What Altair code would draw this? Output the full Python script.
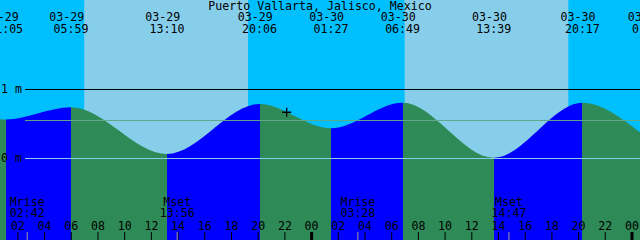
import altair as alt
import pandas as pd

# ---------------- data ----------------
title_text = "Puerto Vallarta, Jalisco, Mexico"

# visible window, hours after 03-29 00:00
window_start = 0.66
window_end = 48.60

# tide extremes
tide_dates = ["03-29", "03-29", "03-29", "03-29", "03-30", "03-30", "03-30", "03-30"]
tide_times = ["01:05", "05:59", "13:10", "20:06", "01:27", "06:49", "13:39", "20:17"]
tide_kinds = ["L", "H", "L", "H", "L", "H", "L", "H"]
tide_heights = [0.565, 0.742, 0.065, 0.790, 0.438, 0.809, 0.012, 0.809]
edge_heights = [0.568, 0.380]  # water level at the left / right edge

# next extreme, only partly visible at the right edge
extra_dates = ["03-31"]
extra_times = ["01:19"]

# sunrise / sunset
sun_dates = ["03-29", "03-29", "03-30", "03-30"]
sun_times = ["06:58", "19:15", "06:58", "19:15"]

# moon events
moon_names = ["Mrise", "Mset", "Mrise", "Mset"]
moon_dates = ["03-29", "03-29", "03-30", "03-30"]
moon_times = ["02:42", "13:56", "03:28", "14:47"]

# hour ticks (hours after 03-29 00:00)
hour_ticks = list(range(2, 49, 2))

# level lines
level_heights = [1.0, 0.551, 0.0]
level_names = ["one", "msl", "zero"]
level_labels = ["1 m", "", "0 m"]

# "now" marker
now_date = "03-29"
now_time = "22:08"
now_height = 0.67

# vertical extent of the picture, metres
y_min, y_max = -1.1812, 2.2971

# ---------------- styles ----------------
DAY = "#87CEEB"
NIGHT = "#00BFFF"
RISE = "#0000FF"
FALL = "#2E8B57"
FONT = "DejaVu Sans Mono"
FS = 11.6
W, H = 640, 240


def hrs(d, t):
    day = {"03-29": 0, "03-30": 1, "03-31": 2}[d]
    hh, mm = t.split(":")
    return day * 24 + int(hh) + int(mm) / 60.0


x_scale = alt.Scale(domain=[window_start, window_end], nice=False, zero=False)
y_scale = alt.Scale(domain=[y_min, y_max], nice=False, zero=False)


def X(f):
    return alt.X(f, type="quantitative", scale=x_scale, axis=None)


def Y(f):
    return alt.Y(f, type="quantitative", scale=y_scale, axis=None)


ext_t = [hrs(d, t) for d, t in zip(tide_dates, tide_times)]

# curve
curve = pd.DataFrame({
    "t": [window_start] + ext_t + [window_end],
    "h": [edge_heights[0]] + tide_heights + [edge_heights[1]],
})

# water gradient (rising blue / falling green), hard stops at extremes
span = window_end - window_start
seg_cols = [FALL if k == "L" else RISE for k in tide_kinds]
after_col = RISE if tide_kinds[-1] == "L" else FALL
stops = [alt.GradientStop(offset=0, color=seg_cols[0])]
for i, t in enumerate(ext_t):
    o = (t - window_start) / span
    nxt = seg_cols[i + 1] if i + 1 < len(seg_cols) else after_col
    stops.append(alt.GradientStop(offset=o, color=seg_cols[i]))
    stops.append(alt.GradientStop(offset=o, color=nxt))
stops.append(alt.GradientStop(offset=1, color=after_col))

# sky intervals
sun_t = [hrs(d, t) for d, t in zip(sun_dates, sun_times)]
bounds = [window_start] + sun_t + [window_end]
sky = pd.DataFrame({
    "start": bounds[:-1],
    "end": bounds[1:],
    "kind": ["night" if i % 2 == 0 else "day" for i in range(len(bounds) - 1)],
})

sky_layer = alt.Chart(sky).mark_rect().encode(
    x=X("start"), x2="end",
    y=alt.value(0), y2=alt.value(H),
    color=alt.Color("kind:N", scale=alt.Scale(domain=["day", "night"], range=[DAY, NIGHT]), legend=None),
)

water_layer = alt.Chart(curve).mark_area(
    interpolate="monotone",
    color=alt.Gradient(gradient="linear", stops=stops, x1=0, x2=1, y1=0, y2=0),
).encode(x=X("t"), y=Y("h"), y2=alt.Y2(datum=y_min))

levels = pd.DataFrame({"h": level_heights, "name": level_names, "label": level_labels})
level_layer = alt.Chart(levels).mark_rule(strokeWidth=1).encode(
    y=Y("h"), x=alt.value(25), x2=alt.value(W),
    color=alt.Color("name:N", scale=alt.Scale(domain=["one", "msl", "zero"],
                                              range=["#000000", "#5fa88a", "#87CEEB"]), legend=None),
)
level_text = alt.Chart(levels).mark_text(
    font=FONT, fontSize=FS, align="left", baseline="alphabetic", dy=4, color="black"
).encode(y=Y("h"), x=alt.value(1), text="label:N")

# hour ticks
ticks = pd.DataFrame({
    "t": hour_ticks,
    "label": ["%02d" % (h % 24) for h in hour_ticks],
    "midnight": [h % 24 == 0 for h in hour_ticks],
})
tick_layer = alt.Chart(ticks).transform_filter("!datum.midnight").mark_rule(
    color="black", strokeWidth=1
).encode(x=X("t"), y=alt.value(232), y2=alt.value(H))
mid_layer = alt.Chart(ticks).transform_filter("datum.midnight").mark_rule(
    color="black", strokeWidth=3
).encode(x=X("t"), y=alt.value(232), y2=alt.value(H))
hour_text = alt.Chart(ticks).mark_text(
    font=FONT, fontSize=FS, align="center", baseline="alphabetic", color="black"
).encode(x=X("t"), y=alt.value(230), text="label:N")

# moon
moon = pd.DataFrame({
    "t": [hrs(d, t) for d, t in zip(moon_dates, moon_times)],
    "name": moon_names,
    "time": moon_times,
})
moon_ticks = alt.Chart(moon).mark_rule(color="#a0a0a0", strokeWidth=1).encode(
    x=X("t"), y=alt.value(232), y2=alt.value(H))
moon_name = alt.Chart(moon).mark_text(
    font=FONT, fontSize=FS, align="center", baseline="alphabetic", color="black"
).encode(x=X("t"), y=alt.value(206), text="name:N")
moon_time = alt.Chart(moon).mark_text(
    font=FONT, fontSize=FS, align="center", baseline="alphabetic", color="black"
).encode(x=X("t"), y=alt.value(217), text="time:N")

# top event labels
events = pd.DataFrame({
    "t": ext_t + [hrs(d, t) for d, t in zip(extra_dates, extra_times)],
    "date": tide_dates + extra_dates,
    "time": tide_times + extra_times,
})
ev_date = alt.Chart(events).mark_text(
    font=FONT, fontSize=FS, align="center", baseline="alphabetic", color="black", dx=-4.3
).encode(x=X("t"), y=alt.value(20.5), text="date:N")
ev_time = alt.Chart(events).mark_text(
    font=FONT, fontSize=FS, align="center", baseline="alphabetic", color="black"
).encode(x=X("t"), y=alt.value(33), text="time:N")

title_layer = alt.Chart(pd.DataFrame({"s": [title_text]})).mark_text(
    font=FONT, fontSize=FS, align="center", baseline="alphabetic", color="black"
).encode(x=alt.value(W / 2), y=alt.value(9.5), text="s:N")

now_df = pd.DataFrame({"t": [hrs(now_date, now_time)], "h": [now_height]})
now_layer = alt.Chart(now_df).mark_point(
    shape="M-1,0L1,0M0,-1L0,1", size=81, filled=False, color="black", strokeWidth=1.3, opacity=1
).encode(x=X("t"), y=Y("h"))

chart = alt.layer(
    sky_layer, water_layer, level_layer, level_text,
    tick_layer, mid_layer, moon_ticks, hour_text, moon_name, moon_time,
    ev_date, ev_time, title_layer, now_layer,
).resolve_scale(color="independent").properties(
    width=W, height=H, padding=0,
    autosize=alt.AutoSizeParams(type="none"),
    background=NIGHT,
).configure_view(stroke=None)

chart.save("out.html", embed_options={"renderer": "svg", "actions": False})
